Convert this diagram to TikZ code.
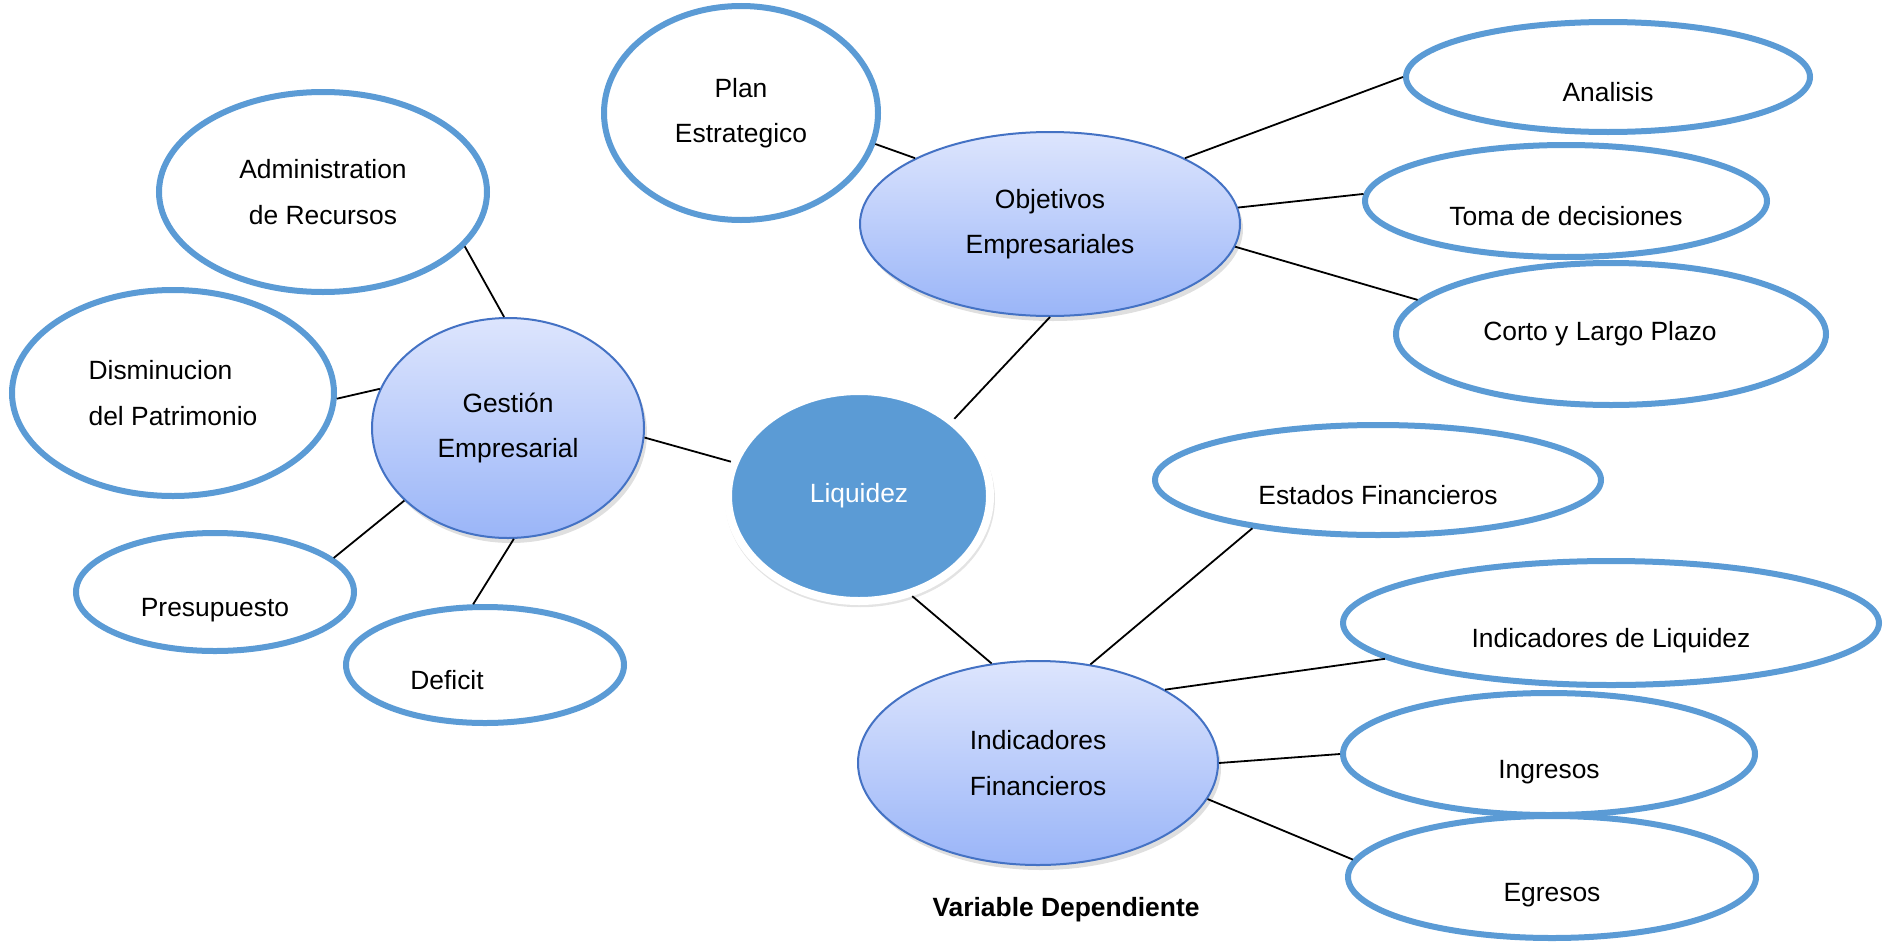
\documentclass[tikz,border=0pt]{standalone}
\usepackage{fontspec}
\setmainfont{Liberation Sans}
\usetikzlibrary{shapes.geometric,shadows}
\definecolor{ringblue}{HTML}{5B9BD5}
\definecolor{edgeblue}{HTML}{4472C4}
\definecolor{topblue}{HTML}{DDE5FD}
\definecolor{botblue}{HTML}{9AB5F8}

\begin{document}
\begin{tikzpicture}[x=0.5pt,y=-0.5pt,
  every node/.style={font=\fontsize{13.2}{22.75}\selectfont},
  outer/.style={ellipse, draw=ringblue, line width=3pt, fill=white, inner sep=0pt},
  inner/.style={ellipse, draw=edgeblue, line width=1pt, top color=topblue, bottom color=botblue,
    inner sep=0pt, align=center, drop shadow={shadow xshift=1.5pt, shadow yshift=-2.5pt, opacity=0.25}},
  low/.style={text height=24pt, text depth=0pt},
  link/.style={line width=0.9pt}]
\useasboundingbox (0,0) rectangle (1883,942);

\node[outer, align=center, minimum width=137pt, minimum height=107pt] (plan) at (741,113) {Plan\\Estrategico};
\node[outer, align=center, minimum width=164pt, minimum height=100pt] (adm) at (323,192) {Administration\\de Recursos};
\node[outer, align=left, minimum width=161pt, minimum height=103pt] (dis) at (173,393) {Disminucion\\del Patrimonio};
\node[outer, low, minimum width=139pt, minimum height=59pt] (pre) at (215,592) {Presupuesto};
\node[outer, low, minimum width=139pt, minimum height=58pt] (def) at (485,665) {\hspace*{-38pt}Deficit};
\node[outer, low, minimum width=202pt, minimum height=55pt] (ana) at (1608,77) {Analisis};
\node[outer, low, minimum width=201pt, minimum height=56pt] (toma) at (1566,201) {Toma de decisiones};
\node[outer, minimum width=215pt, minimum height=71pt] (corto) at (1611,334) {\hspace*{-11pt}Corto y Largo Plazo};
\node[outer, low, minimum width=223pt, minimum height=55pt] (est) at (1378,480) {Estados Financieros};
\node[outer, low, minimum width=268pt, minimum height=62pt] (liqi) at (1611,623) {Indicadores de Liquidez};
\node[outer, low, minimum width=206pt, minimum height=61pt] (ing) at (1549,754) {Ingresos};
\node[outer, low, minimum width=204pt, minimum height=61pt] (egr) at (1552,877) {Egresos};

\node[inner, minimum width=136pt, minimum height=110pt] (ges) at (508,428) {Gestión\\Empresarial};
\node[inner, minimum width=190pt, minimum height=92pt] (obj) at (1050,224) {Objetivos\\Empresariales};
\node[inner, minimum width=180pt, minimum height=102pt] (fin) at (1038,763) {Indicadores\\Financieros};

\node[ellipse, fill=ringblue, draw=white, line width=4pt, inner sep=0pt, text=white,
  minimum width=131pt, minimum height=105pt,
  drop shadow={shadow scale=1.03, shadow xshift=0.5pt, shadow yshift=-1.5pt, opacity=0.22}] (liq) at (859,496) {Liquidez};

\node[font=\bfseries\fontsize{13.2}{16}\selectfont] (cap) at (1066,910) {Variable Dependiente};

\foreach \a/\b in {liq.39/obj.south, liq.165/ges.-4, liq.-62/fin.115,
  obj.154/plan.-13, obj.26/ana.180, obj.5/toma.178, obj.-7/corto.170,
  ges.92/adm.-21, ges.163/dis.-2, ges.-145/pre.16, ges.-87/def.101,
  fin.62/est.-159, fin.30/liqi.-171, fin.0/ing.180, fin.-12/egr.175}
  \draw[link] (\a) -- (\b);
\end{tikzpicture}
\end{document}
